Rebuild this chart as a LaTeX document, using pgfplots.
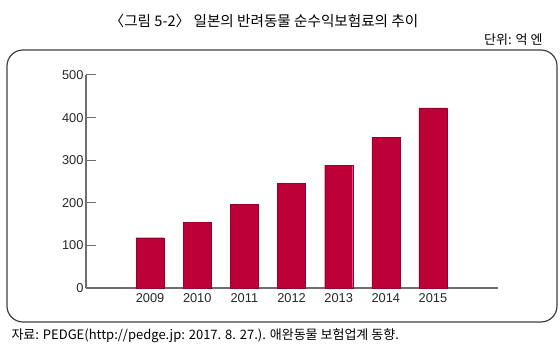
\documentclass[border=0pt]{standalone}
\usepackage{pgfplots}
\pgfplotsset{compat=1.18}
\usepackage{fontspec}
\setmainfont{Liberation Sans}
\newfontfamily\kr{Noto Sans CJK KR}
\definecolor{barred}{RGB}{189,0,56}
\definecolor{axgray}{RGB}{110,110,110}
\begin{document}
\begin{tikzpicture}[x=1pt,y=1pt]
\useasboundingbox (0,0) rectangle (560,350);
\node[anchor=center,font=\kr\fontsize{14.6}{16}\selectfont] at (264,329) {〈그림 5-2〉 일본의 반려동물 순수익보험료의 추이};
\node[anchor=east,font=\kr\fontsize{13}{15}\selectfont] at (546,310) {단위: 억 엔};
\draw[line width=1.2pt,black!75,rounded corners=16pt] (7,28) rectangle (557,300);
\node[anchor=west,font=\kr\fontsize{13}{15}\selectfont] at (8,14) {자료: PEDGE(http://pedge.jp: 2017. 8. 27.). 애완동물 보험업계 동향.};
\begin{axis}[
  at={(86pt,62pt)}, anchor=south west,
  scale only axis, width=412pt, height=213pt,
  xmin=2007.64, xmax=2016.38, ymin=0, ymax=500,
  axis lines=left, axis line style={axgray,line width=1.3pt,-},
  xtick={2009,2010,2011,2012,2013,2014,2015},
  x tick label style={/pgf/number format/1000 sep={}},
  major x tick style={draw=none},
  extra x ticks={2016.38}, extra x tick labels={},
  extra x tick style={major tick length=4pt, tick style={axgray,line width=1pt}},
  ytick={0,100,...,500},
  tick align=inside,
  major tick length=10pt,
  y tick style={axgray,line width=1pt},
  ticklabel style={font=\fontsize{12.8}{14}\selectfont, text=black!85},
  /pgf/number format/assume math mode=true,
  xticklabel style={yshift=-2pt},
  yticklabel style={xshift=1pt},
  clip=false,
]
\addplot[ybar, bar width=28pt, fill=barred, draw=barred!80!black, line width=0.3pt] coordinates {
(2009,118) (2010,154) (2011,197) (2012,245) (2013,288) (2014,354) (2015,423)};
\end{axis}
\end{tikzpicture}
\end{document}
